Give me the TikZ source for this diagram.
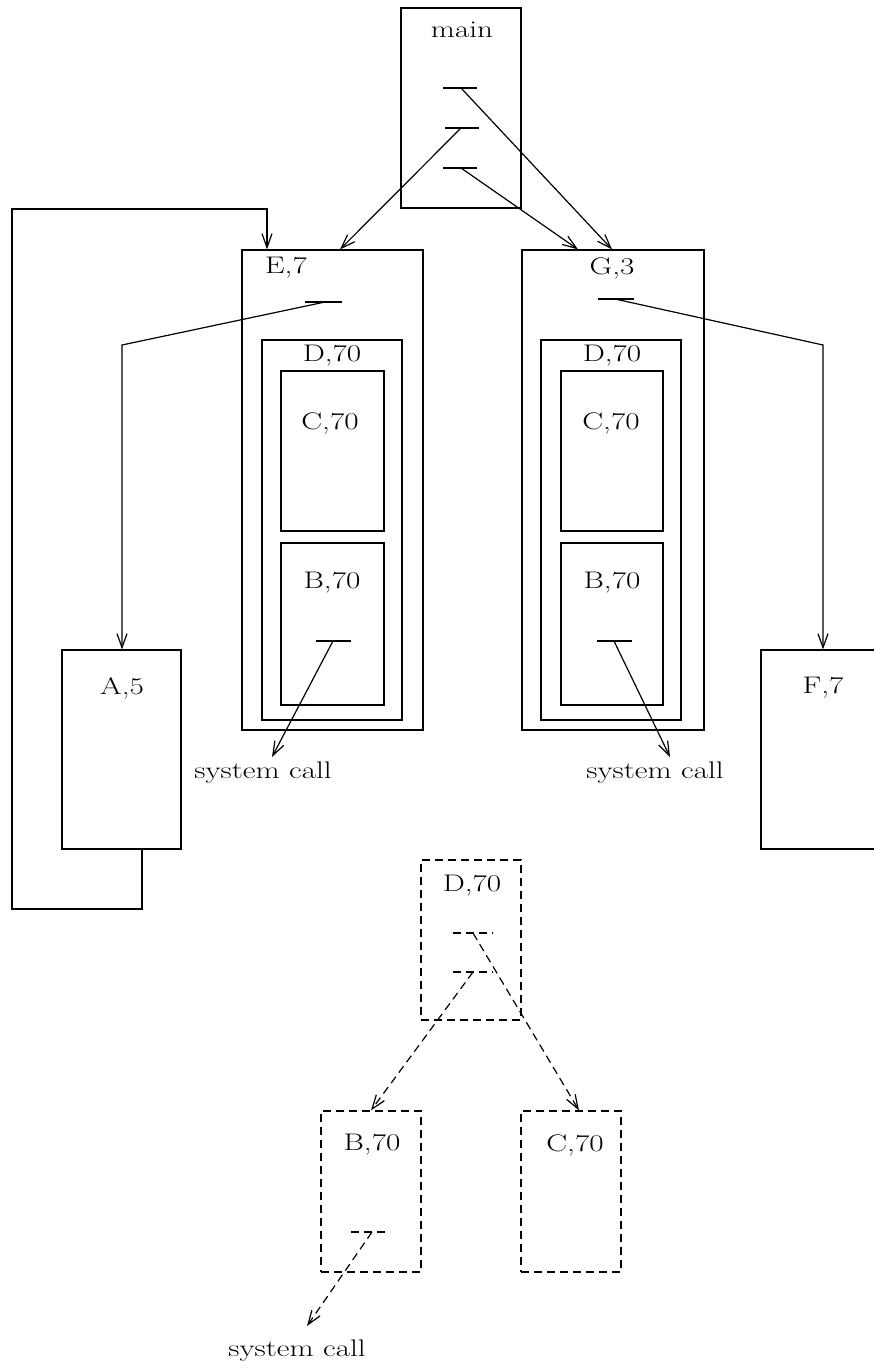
\documentclass[tikz,border=0pt]{standalone}
\usepackage{graphicx}
\usepackage{tikz}
\usetikzlibrary{arrows.meta}

\newcommand{\wide}[1]{\scalebox{1.3}[1]{#1}}

\tikzset{
	box/.style={draw, line width=1.2pt, inner sep=0pt},
	dbox/.style={box, dash pattern=on 8pt off 5pt},
	lbl/.style={inner sep=0pt, font=\fontsize{24}{28}\selectfont},
	arr/.style={line width=1.2pt, -{Straight Barb[length=14pt,width=10pt,line width=1.2pt]}},
	darr/.style={arr, dash pattern=on 8pt off 5pt},
	tick/.style={line width=1.2pt},
}

\begin{document}
\begin{tikzpicture}[x=1pt,y=-1pt]
			\useasboundingbox (0,0) rectangle (873,1368);

			% main
			\node[box, minimum width=120pt, minimum height=200pt] (main) at (461,108) {};
			\node[lbl] (mainlbl) at (462,30) {\wide{main}};
			\draw[tick] (443,88) -- (477,88);
			\draw[tick] (445,128) -- (479,128);
			\draw[tick] (443,168) -- (477,168);
			\coordinate (m1) at (461,88);
			\coordinate (m2) at (461,128);
			\coordinate (m3) at (461,168);

			% E,7 with D,C,B
			\node[box, minimum width=181pt, minimum height=480pt] (E) at (332.5,490) {};
			\node[lbl] (Elbl) at (286,268) {\wide{E,7}};
			\draw[tick] (305,302) -- (342,302);
			\coordinate (e1) at (325,302);
			\node[box, minimum width=140pt, minimum height=380pt] (ED) at (332,530) {};
			\node[lbl] (EDlbl) at (332,356) {\wide{D,70}};
			\node[box, minimum width=103pt, minimum height=160pt] (EC) at (332.5,451) {};
			\node[lbl] (EClbl) at (330,423) {\wide{C,70}};
			\node[box, minimum width=103pt, minimum height=162pt] (EB) at (332.5,624) {};
			\node[lbl] (EBlbl) at (332,583) {\wide{B,70}};
			\draw[tick] (316,641) -- (351,641);
			\coordinate (eb1) at (333,641);
			\coordinate (esys) at (272,757);
			\node[lbl] (esyslbl) at (263,773) {\wide{system call}};

			% G,3 with D,C,B
			\node[box, minimum width=182pt, minimum height=480pt] (G) at (613,490) {};
			\node[lbl] (Glbl) at (612,268) {\wide{G,3}};
			\draw[tick] (598,299) -- (634,299);
			\coordinate (g1) at (615,299);
			\node[box, minimum width=140pt, minimum height=380pt] (GD) at (611,530) {};
			\node[lbl] (GDlbl) at (612,356) {\wide{D,70}};
			\node[box, minimum width=102pt, minimum height=160pt] (GC) at (612,451) {};
			\node[lbl] (GClbl) at (611,423) {\wide{C,70}};
			\node[box, minimum width=102pt, minimum height=162pt] (GB) at (612,624) {};
			\node[lbl] (GBlbl) at (612,583) {\wide{B,70}};
			\draw[tick] (597,641) -- (632,641);
			\coordinate (gb1) at (614,641);
			\coordinate (gsys) at (670,757);
			\node[lbl] (gsyslbl) at (655,773) {\wide{system call}};

			% A,5 and F,7
			\node[box, minimum width=119pt, minimum height=199pt] (A) at (121.5,749.5) {};
			\node[lbl] (Albl) at (122,688) {\wide{A,5}};
			\node[box, minimum width=120pt, minimum height=199pt] (F) at (821,749.5) {};
			\node[lbl] (Flbl) at (823,688) {\wide{F,7}};

			% calls
			\draw[arr] (m1) -- (612,0 |- G.north);
			\draw[arr] (m2) -- (340,0 |- E.north);
			\draw[arr] (m3) -- (578,0 |- G.north);
			\draw[arr] (e1) -- (122,345) -- (122,0 |- A.north);
			\draw[arr] (g1) -- (823,345) -- (823,0 |- F.north);
			\draw[arr] (142,0 |- A.south) -- (142,909) -- (12,909) -- (12,209) -- (267,209) -- (267,0 |- E.north);
			\draw[arr] (eb1) -- (esys);
			\draw[arr] (gb1) -- (gsys);

			% dashed D,70 tree
			\node[dbox, minimum width=100pt, minimum height=160pt] (DD) at (471,940) {};
			\node[lbl] (DDlbl) at (472,886) {\wide{D,70}};
			\draw[tick, dash pattern=on 8pt off 5pt] (453,933) -- (493,933);
			\draw[tick, dash pattern=on 8pt off 5pt] (453,972) -- (493,972);
			\coordinate (d1) at (473,933);
			\coordinate (d2) at (473,972);
			\node[dbox, minimum width=100pt, minimum height=161pt] (DB) at (371,1191.5) {};
			\node[lbl] (DBlbl) at (372,1145) {\wide{B,70}};
			\draw[tick, dash pattern=on 8pt off 5pt] (351,1232) -- (390,1232);
			\coordinate (db1) at (372,1232);
			\coordinate (dsys) at (307,1326);
			\node[lbl] (dsyslbl) at (297,1351) {\wide{system call}};
			\node[dbox, minimum width=100pt, minimum height=161pt] (DC) at (571,1191.5) {};
			\node[lbl] (DClbl) at (575,1145) {\wide{C,70}};

			\draw[darr] (d1) -- (579,0 |- DC.north);
			\draw[darr] (d2) -- (371,0 |- DB.north);
			\draw[darr] (db1) -- (dsys);
		\end{tikzpicture}
\end{document}
